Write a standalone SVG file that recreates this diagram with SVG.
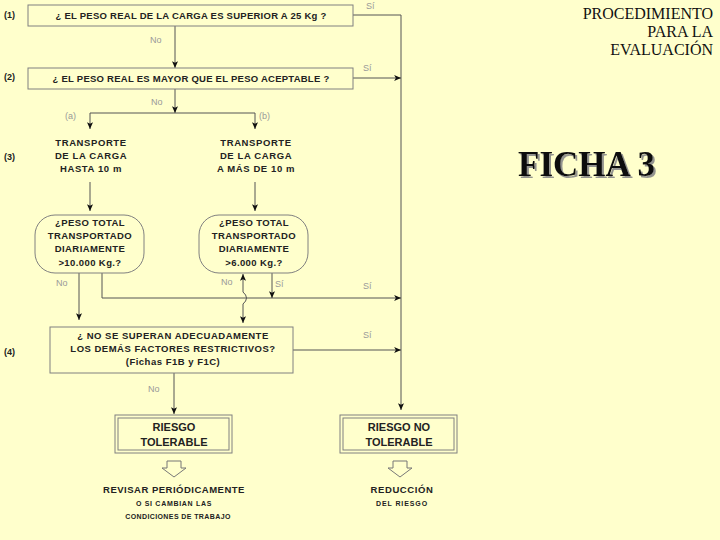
<svg xmlns="http://www.w3.org/2000/svg" width="720" height="540" viewBox="0 0 720 540">
<style>
.bg{fill:#FFFFCC}
.box{fill:none;stroke:#808080;stroke-width:1}
.ln{fill:none;stroke:#555;stroke-width:1}
.t{font-family:"Liberation Sans",Arial,sans-serif;font-weight:bold;font-size:9.5px;fill:#222;text-anchor:middle;letter-spacing:0.25px}
.tr{letter-spacing:0.6px}
.pw{letter-spacing:0.4px}
.q4{letter-spacing:0.5px}
.big{font-size:11px;letter-spacing:0}
.sm{font-size:7px}
.lab{font-family:"Liberation Sans",Arial,sans-serif;font-size:9px;fill:#999;text-anchor:start}
.step{font-family:"Liberation Sans",Arial,sans-serif;font-weight:bold;font-size:9px;fill:#222}
.ser{font-family:"Liberation Serif","Times New Roman",serif;fill:#111}
</style>
<defs>
<marker id="ah" markerUnits="userSpaceOnUse" viewBox="0 0 8 7" refX="8" refY="3.5" markerWidth="7" markerHeight="6" orient="auto-start-reverse">
<path d="M0,0 L8,3.5 L0,7 L2,3.5 z" fill="#111"/>
</marker>
<filter id="sh" x="-10%" y="-20%" width="130%" height="150%">
<feDropShadow dx="2" dy="2" stdDeviation="0.6" flood-color="#888" flood-opacity="0.9"/>
</filter>
</defs>
<rect class="bg" x="0" y="0" width="720" height="540"/>

<g id="steps">
<text class="step" x="4" y="18">(1)</text>
<text class="step" x="4" y="80">(2)</text>
<text class="step" x="4" y="160">(3)</text>
<text class="step" x="4" y="355">(4)</text>
</g>

<g id="title">
<text class="ser" x="713" y="19" font-size="16" text-anchor="end">PROCEDIMIENTO</text>
<text class="ser" x="713" y="37" font-size="16" text-anchor="end">PARA LA</text>
<text class="ser" x="713" y="55" font-size="16" text-anchor="end">EVALUACIÓN</text>
<text class="ser" x="518" y="176" font-size="35" font-weight="bold" filter="url(#sh)">FICHA 3</text>
</g>

<g id="connectors">
<path class="ln" d="M353,15 H401 V410" marker-end="url(#ah)"/>
<path class="ln" d="M175,26 V68" marker-end="url(#ah)"/>
<path class="ln" d="M353,78 H401" marker-end="url(#ah)"/>
<path class="ln" d="M175,89 V113" marker-end="url(#ah)"/>
<path class="ln" d="M90,113 H255"/>
<path class="ln" d="M90,113 V129" marker-end="url(#ah)"/>
<path class="ln" d="M255,113 V129" marker-end="url(#ah)"/>
<path class="ln" d="M90,182 V211" marker-end="url(#ah)"/>
<path class="ln" d="M255,182 V211" marker-end="url(#ah)"/>
<path class="ln" d="M79,273 V320" marker-end="url(#ah)"/>
<path class="ln" d="M102,273 V298 H401" marker-end="url(#ah)"/>
<path class="ln" d="M272,273 V298" marker-end="url(#ah)"/>
<path class="ln" d="M243,274 V292 Q250,298 243,304 V323" marker-start="url(#ah)" marker-end="url(#ah)"/>
<path class="ln" d="M293,350 H401" marker-end="url(#ah)"/>
<path class="ln" d="M174,373 V414" marker-end="url(#ah)"/>
<text class="lab" x="366" y="9">Sí</text>
<text class="lab" x="150" y="43">No</text>
<text class="lab" x="363" y="71">Sí</text>
<text class="lab" x="151" y="105">No</text>
<text class="lab" x="65" y="119">(a)</text>
<text class="lab" x="259" y="119">(b)</text>
<text class="lab" x="56" y="286">No</text>
<text class="lab" x="221" y="285">No</text>
<text class="lab" x="275" y="287">Sí</text>
<text class="lab" x="363" y="289">Sí</text>
<text class="lab" x="363" y="338">Sí</text>
<text class="lab" x="148" y="392">No</text>
</g>

<g id="q1">
<rect class="box" x="28" y="5" width="325" height="21"/>
<text class="t" x="191" y="19">¿ EL PESO REAL DE LA CARGA ES SUPERIOR A 25 Kg ?</text>
</g>
<g id="q2">
<rect class="box" x="28" y="68" width="325" height="21"/>
<text class="t" x="191" y="82">¿ EL PESO REAL ES MAYOR QUE EL PESO ACEPTABLE ?</text>
</g>
<g id="transA">
<text class="t tr" x="91" y="146">TRANSPORTE</text>
<text class="t tr" x="91" y="159">DE LA CARGA</text>
<text class="t tr" x="91" y="172">HASTA 10 m</text>
</g>
<g id="transB">
<text class="t tr" x="256" y="146">TRANSPORTE</text>
<text class="t tr" x="256" y="159">DE LA CARGA</text>
<text class="t tr" x="256" y="172">A MÁS DE 10 m</text>
</g>
<g id="pesoA">
<rect class="box" x="35" y="215" width="109" height="58" rx="20" ry="20"/>
<text class="t pw" x="90" y="226">¿PESO TOTAL</text>
<text class="t pw" x="90" y="239">TRANSPORTADO</text>
<text class="t pw" x="90" y="252">DIARIAMENTE</text>
<text class="t pw" x="90" y="266">&gt;10.000 Kg.?</text>
</g>
<g id="pesoB">
<rect class="box" x="199" y="215" width="109" height="58" rx="20" ry="20"/>
<text class="t pw" x="254" y="226">¿PESO TOTAL</text>
<text class="t pw" x="254" y="239">TRANSPORTADO</text>
<text class="t pw" x="254" y="252">DIARIAMENTE</text>
<text class="t pw" x="254" y="266">&gt;6.000 Kg.?</text>
</g>
<g id="q4">
<rect class="box" x="50" y="327" width="243" height="46"/>
<text class="t q4" x="173" y="339">¿ NO SE SUPERAN ADECUADAMENTE</text>
<text class="t q4" x="173" y="352">LOS DEMÁS FACTORES RESTRICTIVOS?</text>
<text class="t q4" x="173" y="365" font-size="9">(Fichas F1B y F1C)</text>
</g>
<g id="tolerable">
<rect class="box" x="115" y="415" width="117" height="38"/>
<rect class="box" x="118" y="418" width="111" height="32"/>
<text class="t big" x="174" y="431">RIESGO</text>
<text class="t big" x="174" y="446">TOLERABLE</text>
<path d="M167,461 H181 V468 H186 L174,477 L162,468 H167 Z" fill="none" stroke="#777" stroke-width="1"/>
<text class="t" x="174" y="493" style="letter-spacing:0.5px">REVISAR PERIÓDICAMENTE</text>
<text class="t sm" x="174" y="506" style="letter-spacing:0.7px">O SI CAMBIAN LAS</text>
<text class="t sm" x="178" y="519" style="letter-spacing:0.4px">CONDICIONES DE TRABAJO</text>
</g>
<g id="notolerable">
<rect class="box" x="340" y="415" width="117" height="38"/>
<rect class="box" x="343" y="418" width="111" height="32"/>
<text class="t big" x="399" y="431">RIESGO NO</text>
<text class="t big" x="399" y="446">TOLERABLE</text>
<path d="M393,461 H407 V468 H412 L400,477 L388,468 H393 Z" fill="none" stroke="#777" stroke-width="1"/>
<text class="t" x="402" y="493" style="letter-spacing:0.6px">REDUCCIÓN</text>
<text class="t sm" x="402" y="506" style="letter-spacing:0.9px">DEL RIESGO</text>
</g>
</svg>
